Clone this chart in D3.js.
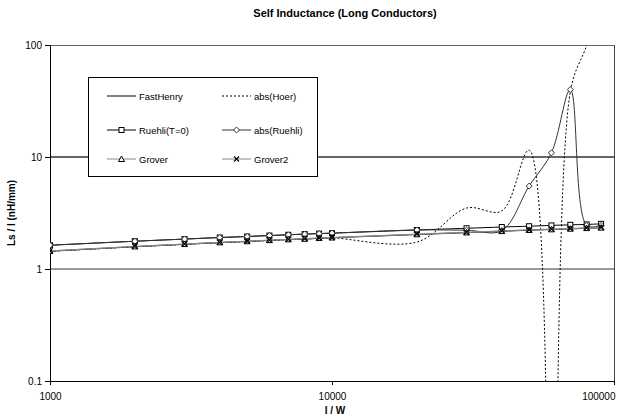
<!DOCTYPE html>
<html>
<head>
<meta charset="utf-8">
<script src="https://cdn.jsdelivr.net/npm/d3@7"></script>
<style>
  html, body { margin: 0; padding: 0; background: #fff; }
  svg { display: block; font-family: "Liberation Sans", Arial, sans-serif; }
</style>
</head>
<body>
<svg id="chart" width="644" height="420"></svg>
<script>
// ---- data ----
const lw = [1000, 2000, 3000, 4000, 5000, 6000, 7000, 8000, 9000, 10000, 20000, 30000, 40000, 50000, 60000, 70000, 80000, 90000];
const fastHenry = [1.44, 1.58, 1.66, 1.72, 1.76, 1.80, 1.83, 1.85, 1.88, 1.90, 2.03, 2.11, 2.17, 2.22, 2.25, 2.28, 2.31, 2.33];
const absHoer   = [1.44, 1.58, 1.66, 1.72, 1.76, 1.80, 1.83, 1.85, 1.88, 1.90, 1.74, 3.5, 3.3, 11.5, 0.0000001, 38, 100, 300];
const ruehliT0  = [1.63, 1.77, 1.85, 1.91, 1.95, 1.99, 2.02, 2.05, 2.07, 2.09, 2.23, 2.31, 2.37, 2.41, 2.45, 2.48, 2.50, 2.53];
const absRuehli = [1.63, 1.77, 1.85, 1.91, 1.95, 1.99, 2.02, 2.05, 2.07, 2.09, 2.23, 2.22, 2.2, 5.5, 10.9, 40, 2.45, 2.45];
const grover    = [1.45, 1.59, 1.67, 1.73, 1.77, 1.81, 1.84, 1.86, 1.89, 1.91, 2.04, 2.12, 2.18, 2.23, 2.26, 2.29, 2.32, 2.34];
const grover2   = [1.45, 1.59, 1.67, 1.73, 1.77, 1.81, 1.84, 1.87, 1.89, 1.91, 2.05, 2.13, 2.19, 2.24, 2.27, 2.30, 2.33, 2.35];
const yTicks = [0.1, 1, 10, 100];
const yTickLabels = ["0.1", "1", "10", "100"];
const xTicks = [1000, 10000, 100000];
const xTickLabels = ["1000", "10000", "100000"];
const title = "Self Inductance (Long Conductors)";
const xTitle = "l / W";
const yTitle = "Ls / l (nH/mm)";

const series = [
  { name: "FastHenry",   values: fastHenry, color: "#000", dash: null,  marker: null },
  { name: "abs(Hoer)",   values: absHoer,   color: "#000", dash: "2,2", marker: null },
  { name: "Ruehli(T=0)", values: ruehliT0,  color: "#000", dash: null,  marker: "square" },
  { name: "abs(Ruehli)", values: absRuehli, color: "#333", dash: null,  marker: "diamond" },
  { name: "Grover",      values: grover,    color: "#888", dash: null,  marker: "triangle" },
  { name: "Grover2",     values: grover2,   color: "#888", dash: null,  marker: "x" }
];

// ---- layout ----
const svg = d3.select("#chart");
const L = 50, R = 614, T = 45, B = 381;
const x = d3.scaleLog().domain([1000, 100000]).range([L, R]);
const y = d3.scaleLog().domain([0.1, 100]).range([B, T]);

svg.append("rect").attr("width", 644).attr("height", 420).attr("fill", "#fff");

svg.append("defs").append("clipPath").attr("id", "plotclip")
  .append("rect").attr("x", L).attr("y", T).attr("width", R - L).attr("height", B - T);

// gridlines
svg.append("g").selectAll("line").data([1, 10]).join("line")
  .attr("x1", L).attr("x2", R).attr("y1", d => y(d)).attr("y2", d => y(d))
  .attr("stroke", d => d === 1 ? "#999" : "#666").attr("stroke-width", 1.3).attr("shape-rendering", "crispEdges");
// top & right border
svg.append("line").attr("x1", L).attr("x2", R).attr("y1", T).attr("y2", T)
  .attr("stroke", "#666").attr("stroke-width", 1).attr("shape-rendering", "crispEdges");
svg.append("line").attr("x1", R).attr("x2", R).attr("y1", T).attr("y2", B)
  .attr("stroke", "#444").attr("stroke-width", 1).attr("shape-rendering", "crispEdges");

// axes
const yAxis = d3.axisLeft(y).tickValues(yTicks).tickFormat((d, i) => yTickLabels[i]).tickSize(5).tickPadding(3);
const gy = svg.append("g").attr("transform", `translate(${L},0)`).call(yAxis);
const xAxis = d3.axisBottom(x).tickValues(xTicks).tickFormat((d, i) => xTickLabels[i]).tickSize(4).tickPadding(8);
const gx = svg.append("g").attr("transform", `translate(0,${B})`).call(xAxis);
[gx, gy].forEach(g => {
  g.select(".domain").attr("stroke", "#000").attr("shape-rendering", "crispEdges");
  g.selectAll(".tick line").attr("stroke", "#000").attr("shape-rendering", "crispEdges");
  g.selectAll("text").attr("font-family", "Liberation Sans, Arial, sans-serif").attr("font-size", 10).attr("fill", "#000");
});
gx.selectAll(".tick text").filter(d => d === 100000).attr("text-anchor", "end").attr("dx", "1");

// titles
svg.append("text").attr("x", 345).attr("y", 17).attr("text-anchor", "middle")
  .attr("font-size", 11).attr("font-weight", "bold").text(title);
svg.append("text").attr("x", 335).attr("y", 414).attr("text-anchor", "middle")
  .attr("font-size", 10).attr("font-weight", "bold").text(xTitle);
svg.append("text").attr("transform", "translate(15,213) rotate(-90)").attr("text-anchor", "middle")
  .attr("font-size", 10).attr("font-weight", "bold").text(yTitle);

// lines
const line = d3.line().x(d => x(d[0])).y(d => y(d[1])).curve(d3.curveCatmullRom.alpha(0.5));
const plot = svg.append("g").attr("clip-path", "url(#plotclip)");
series.forEach(s => {
  const pts = lw.map((v, i) => [v, s.values[i]]);
  plot.append("path").datum(pts).attr("d", line).attr("fill", "none")
    .attr("stroke", s.color).attr("stroke-width", 1)
    .attr("stroke-dasharray", s.dash);
});

function drawMarker(g, type, cx, cy, color) {
  const s = 2.5;
  if (type === "square") {
    g.append("rect").attr("x", cx - s).attr("y", cy - s).attr("width", 2 * s).attr("height", 2 * s)
      .attr("fill", "#fff").attr("stroke", color).attr("stroke-width", 1);
  } else if (type === "diamond") {
    g.append("path").attr("d", `M${cx},${cy - 3}L${cx + 3},${cy}L${cx},${cy + 3}L${cx - 3},${cy}Z`)
      .attr("fill", "#fff").attr("stroke", color).attr("stroke-width", 1);
  } else if (type === "triangle") {
    g.append("path").attr("d", `M${cx},${cy - 3}L${cx + 3},${cy + 2.5}L${cx - 3},${cy + 2.5}Z`)
      .attr("fill", "#fff").attr("stroke", color).attr("stroke-width", 1);
  } else if (type === "x") {
    g.append("path").attr("d", `M${cx - 2.5},${cy - 2.5}L${cx + 2.5},${cy + 2.5}M${cx + 2.5},${cy - 2.5}L${cx - 2.5},${cy + 2.5}`)
      .attr("stroke", "#000").attr("stroke-width", 1.2);
  }
}
series.forEach(s => {
  if (!s.marker) return;
  const g = plot.append("g");
  lw.forEach((v, i) => drawMarker(g, s.marker, x(v), y(s.values[i]), s.marker === "triangle" ? "#000" : s.color));
});

// legend
const lg = svg.append("g");
lg.append("rect").attr("x", 88.5).attr("y", 77.5).attr("width", 229).attr("height", 99)
  .attr("fill", "#fff").attr("stroke", "#000").attr("stroke-width", 1);
const rowsY = [96, 130, 159];
const colX = [107, 222];
series.forEach((s, i) => {
  const cx = colX[i % 2], cy = rowsY[Math.floor(i / 2)];
  lg.append("line").attr("x1", cx).attr("x2", cx + 29).attr("y1", cy).attr("y2", cy)
    .attr("stroke", s.color).attr("stroke-width", 1).attr("stroke-dasharray", s.dash);
  if (s.marker) drawMarker(lg, s.marker, cx + 14.5, cy, s.marker === "triangle" ? "#000" : s.color);
  lg.append("text").attr("x", cx + 32).attr("y", cy + 3.5).attr("font-size", 9.5).attr("fill", "#000").text(s.name);
});
</script>
</body>
</html>
